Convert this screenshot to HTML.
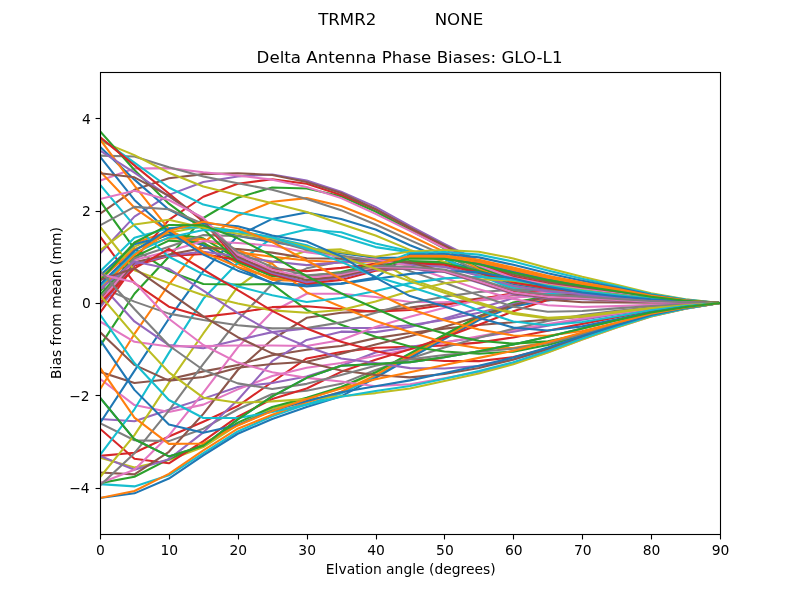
<!DOCTYPE html>
<html lang="en"><head><meta charset="utf-8"><title>Delta Antenna Phase Biases: GLO-L1</title>
<style>html,body{margin:0;padding:0;background:#fff;}body{width:800px;height:600px;overflow:hidden;}svg{display:block;}text{font-family:"DejaVu Sans","Liberation Sans",sans-serif;fill:#000;}</style></head><body>
<svg width="800" height="600" viewBox="0 0 800 600">
<rect width="800" height="600" fill="#fff"/>
<defs><clipPath id="c"><rect x="100" y="72" width="620" height="462"/></clipPath></defs>
<g clip-path="url(#c)" fill="none" stroke-width="2.083" stroke-linejoin="round" stroke-linecap="square">
<polyline stroke="#1f77b4" points="100.00,397.71 134.44,439.29 168.89,456.38 203.33,445.76 237.78,419.42 272.22,396.32 306.67,377.84 341.11,365.83 375.56,363.98 410.00,362.14 444.44,357.17 478.89,351.28 513.33,344.46 547.78,336.84 582.22,328.58 616.67,320.29 651.11,312.53 685.56,307.06 720.00,303.00"/>
<polyline stroke="#ff7f0e" points="100.00,279.90 134.44,242.94 168.89,231.39 203.33,242.94 237.78,263.73 272.22,279.90 306.67,281.29 341.11,274.36 375.56,266.04 410.00,256.69 444.44,256.68 478.89,261.19 513.33,269.22 547.78,277.08 582.22,283.63 616.67,289.57 651.11,295.85 685.56,300.34 720.00,303.00"/>
<polyline stroke="#2ca02c" points="100.00,291.45 134.44,249.87 168.89,233.70 203.33,238.32 237.78,259.11 272.22,273.43 306.67,277.13 341.11,272.97 375.56,263.73 410.00,260.96 444.44,262.08 478.89,268.81 513.33,278.02 547.78,284.58 582.22,289.20 616.67,293.53 651.11,298.03 685.56,301.15 720.00,303.00"/>
<polyline stroke="#d62728" points="100.00,455.92 134.44,452.69 168.89,436.52 203.33,421.73 237.78,406.03 272.22,382.00 306.67,358.44 341.11,351.97 375.56,347.81 410.00,346.89 444.44,345.39 478.89,342.62 513.33,337.42 547.78,330.72 582.22,323.86 616.67,317.15 651.11,310.80 685.56,306.32 720.00,303.00"/>
<polyline stroke="#9467bd" points="100.00,418.96 134.44,421.27 168.89,409.72 203.33,398.63 237.78,387.08 272.22,382.93 306.67,376.46 341.11,365.83 375.56,352.43 410.00,346.89 444.44,342.27 478.89,337.30 513.33,331.64 547.78,325.64 582.22,319.81 616.67,314.32 651.11,309.24 685.56,305.66 720.00,303.00"/>
<polyline stroke="#8c564b" points="100.00,371.84 134.44,382.93 168.89,379.23 203.33,371.38 237.78,364.91 272.22,355.21 306.67,349.66 341.11,345.97 375.56,338.11 410.00,333.03 444.44,328.64 478.89,325.06 513.33,322.29 547.78,319.75 582.22,316.76 616.67,312.75 651.11,308.37 685.56,305.29 720.00,303.00"/>
<polyline stroke="#e377c2" points="100.00,378.77 134.44,405.10 168.89,412.03 203.33,404.64 237.78,389.39 272.22,376.00 306.67,367.68 341.11,363.06 375.56,355.67 410.00,349.20 444.44,342.50 478.89,336.15 513.33,329.91 547.78,323.91 582.22,318.41 616.67,313.38 651.11,308.72 685.56,305.44 720.00,303.00"/>
<polyline stroke="#7f7f7f" points="100.00,423.12 134.44,440.21 168.89,441.14 203.33,428.66 237.78,409.26 272.22,394.01 306.67,390.78 341.11,383.85 375.56,369.99 410.00,358.44 444.44,347.47 478.89,337.65 513.33,328.76 547.78,321.02 582.22,315.13 616.67,310.86 651.11,307.33 685.56,304.84 720.00,303.00"/>
<polyline stroke="#bcbd22" points="100.00,457.77 134.44,467.47 168.89,460.08 203.33,447.14 237.78,424.97 272.22,408.80 306.67,398.63 341.11,388.01 375.56,372.85 410.00,353.82 444.44,335.20 478.89,316.56 513.33,302.83 547.78,296.60 582.22,294.88 616.67,295.79 651.11,298.93 685.56,301.61 720.00,303.00"/>
<polyline stroke="#17becf" points="100.00,484.10 134.44,486.41 168.89,475.33 203.33,453.15 237.78,431.44 272.22,416.19 306.67,404.18 341.11,393.55 375.56,376.18 410.00,356.59 444.44,337.83 478.89,318.92 513.33,305.25 547.78,299.10 582.22,296.75 616.67,296.90 651.11,299.49 685.56,301.61 720.00,303.00"/>
<polyline stroke="#1f77b4" points="100.00,497.96 134.44,493.34 168.89,478.56 203.33,455.46 237.78,433.75 272.22,418.96 306.67,406.95 341.11,396.32 375.56,377.84 410.00,357.98 444.44,339.15 478.89,320.09 513.33,306.47 547.78,300.34 582.22,297.69 616.67,297.46 651.11,299.77 685.56,301.61 720.00,303.00"/>
<polyline stroke="#ff7f0e" points="100.00,497.96 134.44,491.03 168.89,473.94 203.33,450.38 237.78,428.66 272.22,414.80 306.67,402.33 341.11,391.70 375.56,375.07 410.00,355.67 444.44,336.96 478.89,318.13 513.33,304.44 547.78,298.26 582.22,296.13 616.67,296.53 651.11,299.30 685.56,301.61 720.00,303.00"/>
<polyline stroke="#2ca02c" points="100.00,483.18 134.44,476.71 168.89,459.16 203.33,444.83 237.78,422.66 272.22,406.95 306.67,397.71 341.11,387.08 375.56,372.30 410.00,353.36 444.44,334.76 478.89,316.17 513.33,302.42 547.78,296.19 582.22,294.57 616.67,295.61 651.11,298.84 685.56,301.61 720.00,303.00"/>
<polyline stroke="#d62728" points="100.00,428.66 134.44,458.69 168.89,463.31 203.33,441.14 237.78,416.65 272.22,399.10 306.67,388.47 341.11,371.84 375.56,359.83 410.00,349.20 444.44,337.42 478.89,324.83 513.33,311.20 547.78,300.11 582.22,296.27 616.67,297.80 651.11,300.13 685.56,301.83 720.00,303.00"/>
<polyline stroke="#9467bd" points="100.00,455.92 134.44,469.78 168.89,459.16 203.33,432.36 237.78,400.02 272.22,361.21 306.67,339.96 341.11,331.64 375.56,332.11 410.00,327.02 444.44,318.48 478.89,308.43 513.33,298.15 547.78,291.68 582.22,291.54 616.67,295.05 651.11,298.62 685.56,301.21 720.00,303.00"/>
<polyline stroke="#8c564b" points="100.00,472.55 134.44,474.40 168.89,451.76 203.33,413.88 237.78,369.99 272.22,339.50 306.67,317.78 341.11,312.70 375.56,310.85 410.00,307.62 444.44,303.00 478.89,298.61 513.33,295.15 547.78,293.53 582.22,294.31 616.67,296.88 651.11,299.63 685.56,301.63 720.00,303.00"/>
<polyline stroke="#e377c2" points="100.00,483.18 134.44,469.78 168.89,435.59 203.33,392.63 237.78,347.35 272.22,311.78 306.67,293.76 341.11,293.76 375.56,296.99 410.00,302.08 444.44,302.19 478.89,300.46 513.33,297.57 547.78,295.61 582.22,296.00 616.67,298.11 651.11,300.30 685.56,301.90 720.00,303.00"/>
<polyline stroke="#7f7f7f" points="100.00,485.49 134.44,453.15 168.89,410.65 203.33,363.98 237.78,320.09 272.22,284.06 306.67,268.35 341.11,261.42 375.56,259.11 410.00,264.45 444.44,266.50 478.89,275.05 513.33,285.23 547.78,290.71 582.22,293.75 616.67,296.77 651.11,299.82 685.56,301.82 720.00,303.00"/>
<polyline stroke="#bcbd22" points="100.00,477.17 134.44,435.13 168.89,382.93 203.33,333.49 237.78,286.83 272.22,262.34 306.67,250.79 341.11,249.41 375.56,259.11 410.00,278.98 444.44,290.76 478.89,302.42 513.33,312.82 547.78,317.67 582.22,315.94 616.67,311.80 651.11,307.85 685.56,305.07 720.00,303.00"/>
<polyline stroke="#17becf" points="100.00,455.00 134.44,409.26 168.89,352.90 203.33,298.84 237.78,262.81 272.22,237.86 306.67,229.54 341.11,232.31 375.56,243.40 410.00,251.26 444.44,258.89 478.89,274.38 513.33,287.63 547.78,292.76 582.22,295.27 616.67,297.85 651.11,300.42 685.56,302.04 720.00,303.00"/>
<polyline stroke="#1f77b4" points="100.00,423.12 134.44,370.91 168.89,318.71 203.33,271.12 237.78,236.01 272.22,218.92 306.67,212.45 341.11,218.92 375.56,229.54 410.00,245.25 444.44,258.76 478.89,273.08 513.33,284.43 547.78,290.03 582.22,293.24 616.67,296.41 651.11,299.62 685.56,301.74 720.00,303.00"/>
<polyline stroke="#ff7f0e" points="100.00,389.39 134.44,333.95 168.89,284.52 203.33,242.94 237.78,215.68 272.22,201.82 306.67,198.13 341.11,205.98 375.56,219.84 410.00,235.55 444.44,251.93 478.89,268.90 513.33,281.22 547.78,287.30 582.22,291.22 616.67,294.97 651.11,298.83 685.56,301.45 720.00,303.00"/>
<polyline stroke="#2ca02c" points="100.00,345.97 134.44,293.76 168.89,256.80 203.33,217.99 237.78,197.66 272.22,187.50 306.67,188.42 341.11,196.28 375.56,211.52 410.00,230.00 444.44,248.58 478.89,266.92 513.33,279.62 547.78,285.94 582.22,290.21 616.67,294.25 651.11,298.43 685.56,301.30 720.00,303.00"/>
<polyline stroke="#d62728" points="100.00,300.69 134.44,259.11 168.89,219.84 203.33,196.74 237.78,183.80 272.22,179.18 306.67,183.80 341.11,194.89 375.56,209.21 410.00,228.16 444.44,246.25 478.89,264.00 513.33,276.42 547.78,283.21 582.22,288.19 616.67,292.81 651.11,297.64 685.56,301.00 720.00,303.00"/>
<polyline stroke="#9467bd" points="100.00,253.57 134.44,216.61 168.89,194.89 203.33,181.96 237.78,176.41 272.22,174.56 306.67,180.57 341.11,191.66 375.56,206.90 410.00,225.85 444.44,243.81 478.89,261.09 513.33,273.22 547.78,280.49 582.22,286.16 616.67,291.37 651.11,296.84 685.56,300.71 720.00,303.00"/>
<polyline stroke="#8c564b" points="100.00,213.83 134.44,189.81 168.89,178.26 203.33,174.10 237.78,173.18 272.22,175.03 306.67,181.96 341.11,193.04 375.56,209.21 410.00,227.69 444.44,245.32 478.89,262.61 513.33,274.82 547.78,281.85 582.22,287.17 616.67,292.09 651.11,297.24 685.56,300.86 720.00,303.00"/>
<polyline stroke="#e377c2" points="100.00,180.57 134.44,168.56 168.89,168.10 203.33,172.25 237.78,175.49 272.22,179.65 306.67,187.04 341.11,198.13 375.56,213.83 410.00,230.93 444.44,247.99 478.89,265.52 513.33,278.02 547.78,284.58 582.22,289.20 616.67,293.53 651.11,298.03 685.56,301.15 720.00,303.00"/>
<polyline stroke="#7f7f7f" points="100.00,155.62 134.44,156.55 168.89,167.17 203.33,176.41 237.78,183.34 272.22,189.81 306.67,199.05 341.11,210.14 375.56,224.46 410.00,240.17 444.44,255.29 478.89,270.99 513.33,282.83 547.78,288.67 582.22,292.23 616.67,295.69 651.11,299.23 685.56,301.60 720.00,303.00"/>
<polyline stroke="#bcbd22" points="100.00,140.84 134.44,155.16 168.89,172.72 203.33,186.58 237.78,194.89 272.22,203.21 306.67,211.99 341.11,224.00 375.56,235.55 410.00,249.87 444.44,261.89 478.89,275.06 513.33,286.03 547.78,291.39 582.22,294.26 616.67,297.13 651.11,300.02 685.56,301.89 720.00,303.00"/>
<polyline stroke="#17becf" points="100.00,138.07 134.44,162.55 168.89,187.50 203.33,204.59 237.78,212.45 272.22,218.92 306.67,226.77 341.11,236.47 375.56,247.10 410.00,252.18 444.44,258.55 478.89,275.09 513.33,289.23 547.78,294.12 582.22,296.28 616.67,298.57 651.11,300.81 685.56,302.19 720.00,303.00"/>
<polyline stroke="#1f77b4" points="100.00,146.84 134.44,179.65 168.89,209.68 203.33,226.77 237.78,236.01 272.22,242.02 306.67,247.56 341.11,253.10 375.56,257.72 410.00,257.85 444.44,258.16 478.89,263.27 513.33,271.62 547.78,279.13 582.22,285.15 616.67,290.65 651.11,296.44 685.56,300.56 720.00,303.00"/>
<polyline stroke="#ff7f0e" points="100.00,171.33 134.44,207.83 168.89,231.85 203.33,245.25 237.78,252.18 272.22,256.80 306.67,260.50 341.11,262.34 375.56,261.42 410.00,257.08 444.44,257.18 478.89,261.88 513.33,270.02 547.78,277.76 582.22,284.14 616.67,289.93 651.11,296.05 685.56,300.41 720.00,303.00"/>
<polyline stroke="#2ca02c" points="100.00,200.90 134.44,248.95 168.89,271.12 203.33,284.06 237.78,284.52 272.22,284.06 306.67,309.93 341.11,324.71 375.56,336.73 410.00,346.43 444.44,351.51 478.89,353.70 513.33,351.63 547.78,345.04 582.22,335.41 616.67,325.01 651.11,315.13 685.56,308.17 720.00,303.00"/>
<polyline stroke="#d62728" points="100.00,236.47 134.44,283.13 168.89,306.70 203.33,316.86 237.78,312.70 272.22,307.16 306.67,306.23 341.11,309.01 375.56,311.78 410.00,309.93 444.44,304.96 478.89,299.19 513.33,293.30 547.78,290.18 582.22,291.62 616.67,295.35 651.11,298.79 685.56,301.28 720.00,303.00"/>
<polyline stroke="#9467bd" points="100.00,283.60 134.44,321.48 168.89,345.04 203.33,348.28 237.78,339.96 272.22,332.11 306.67,328.41 341.11,327.95 375.56,327.95 410.00,325.18 444.44,319.86 478.89,312.70 513.33,304.04 547.78,297.46 582.22,296.12 616.67,298.11 651.11,300.30 685.56,301.90 720.00,303.00"/>
<polyline stroke="#8c564b" points="100.00,332.11 134.44,364.91 168.89,380.62 203.33,376.92 237.78,367.68 272.22,363.98 306.67,361.67 341.11,353.82 375.56,344.58 410.00,336.26 444.44,326.79 478.89,316.51 513.33,305.31 547.78,296.42 582.22,293.93 616.67,296.27 651.11,299.29 685.56,301.49 720.00,303.00"/>
<polyline stroke="#e377c2" points="100.00,321.48 134.44,341.81 168.89,346.43 203.33,345.97 237.78,345.50 272.22,345.50 306.67,345.97 341.11,339.96 375.56,327.02 410.00,316.86 444.44,307.85 478.89,300.00 513.33,294.34 547.78,291.68 582.22,292.50 616.67,295.66 651.11,298.95 685.56,301.35 720.00,303.00"/>
<polyline stroke="#7f7f7f" points="100.00,286.83 134.44,301.61 168.89,313.63 203.33,320.09 237.78,325.18 272.22,328.41 306.67,327.95 341.11,322.40 375.56,312.70 410.00,303.00 444.44,296.65 478.89,292.03 513.33,289.72 547.78,289.72 582.22,291.85 616.67,295.35 651.11,298.79 685.56,301.28 720.00,303.00"/>
<polyline stroke="#bcbd22" points="100.00,277.59 134.44,246.64 168.89,232.78 203.33,226.31 237.78,230.93 272.22,238.32 306.67,248.02 341.11,252.18 375.56,256.80 410.00,251.45 444.44,250.06 478.89,251.83 513.33,258.41 547.78,267.88 582.22,276.80 616.67,284.70 651.11,293.17 685.56,299.34 720.00,303.00"/>
<polyline stroke="#17becf" points="100.00,271.58 134.44,237.86 168.89,228.16 203.33,227.23 237.78,230.93 272.22,237.40 306.67,245.25 341.11,259.11 375.56,266.96 410.00,253.00 444.44,252.02 478.89,254.61 513.33,261.61 547.78,270.61 582.22,278.83 616.67,286.14 651.11,293.96 685.56,299.64 720.00,303.00"/>
<polyline stroke="#1f77b4" points="100.00,275.28 134.44,244.33 168.89,235.09 203.33,245.25 237.78,267.43 272.22,283.13 306.67,284.52 341.11,283.60 375.56,277.59 410.00,254.55 444.44,253.98 478.89,257.38 513.33,264.82 547.78,273.33 582.22,280.85 616.67,287.58 651.11,294.76 685.56,299.93 720.00,303.00"/>
<polyline stroke="#ff7f0e" points="100.00,279.90 134.44,248.95 168.89,238.32 203.33,239.24 237.78,249.87 272.22,263.73 306.67,292.37 341.11,306.70 375.56,321.02 410.00,332.11 444.44,342.39 478.89,348.28 513.33,348.04 547.78,342.39 582.22,333.29 616.67,323.44 651.11,314.26 685.56,307.80 720.00,303.00"/>
<polyline stroke="#2ca02c" points="100.00,295.15 134.44,256.80 168.89,240.63 203.33,242.94 237.78,261.88 272.22,276.20 306.67,276.20 341.11,272.05 375.56,263.73 410.00,262.12 444.44,263.56 478.89,270.89 513.33,280.42 547.78,286.62 582.22,290.72 616.67,294.61 651.11,298.63 685.56,301.37 720.00,303.00"/>
<polyline stroke="#d62728" points="100.00,312.70 134.44,265.58 168.89,255.88 203.33,254.03 237.78,260.03 272.22,268.81 306.67,271.12 341.11,267.89 375.56,263.73 410.00,263.09 444.44,264.78 478.89,272.62 513.33,282.43 547.78,288.33 582.22,291.98 616.67,295.51 651.11,299.13 685.56,301.56 720.00,303.00"/>
<polyline stroke="#9467bd" points="100.00,307.62 134.44,264.19 168.89,255.41 203.33,251.72 237.78,256.34 272.22,261.42 306.67,265.12 341.11,262.34 375.56,260.50 410.00,264.84 444.44,266.99 478.89,275.74 513.33,286.03 547.78,291.39 582.22,294.26 616.67,297.13 651.11,300.02 685.56,301.89 720.00,303.00"/>
<polyline stroke="#8c564b" points="100.00,304.85 134.44,262.34 168.89,254.49 203.33,248.02 237.78,248.95 272.22,252.64 306.67,258.19 341.11,258.65 375.56,260.03 410.00,262.34 444.44,271.47 478.89,280.94 513.33,291.45 547.78,299.65 582.22,302.27 616.67,302.39 651.11,302.66 685.56,302.86 720.00,303.00"/>
<polyline stroke="#e377c2" points="100.00,302.08 134.44,260.03 168.89,251.26 203.33,241.09 237.78,242.94 272.22,245.71 306.67,252.18 341.11,256.80 375.56,259.57 410.00,266.04 444.44,277.82 478.89,289.37 513.33,299.07 547.78,305.19 582.22,307.02 616.67,306.14 651.11,304.73 685.56,303.74 720.00,303.00"/>
<polyline stroke="#7f7f7f" points="100.00,297.92 134.44,258.19 168.89,246.64 203.33,235.09 237.78,236.01 272.22,240.17 306.67,249.87 341.11,255.41 375.56,260.96 410.00,271.12 444.44,282.67 478.89,295.38 513.33,306.70 547.78,311.78 582.22,310.92 616.67,308.35 651.11,305.95 685.56,304.25 720.00,303.00"/>
<polyline stroke="#bcbd22" points="100.00,226.77 134.44,270.20 168.89,283.13 203.33,295.15 237.78,303.46 272.22,310.39 306.67,312.70 341.11,309.93 375.56,301.61 410.00,290.99 444.44,283.25 478.89,279.32 513.33,280.71 547.78,285.33 582.22,290.31 616.67,294.74 651.11,298.45 685.56,301.15 720.00,303.00"/>
<polyline stroke="#17becf" points="100.00,184.73 134.44,225.85 168.89,256.80 203.33,274.36 237.78,286.37 272.22,295.15 306.67,302.08 341.11,297.92 375.56,290.99 410.00,283.13 444.44,278.40 478.89,276.78 513.33,279.90 547.78,285.68 582.22,290.85 616.67,295.05 651.11,298.62 685.56,301.21 720.00,303.00"/>
<polyline stroke="#1f77b4" points="100.00,156.55 134.44,199.97 168.89,231.85 203.33,254.49 237.78,270.66 272.22,282.67 306.67,286.37 341.11,283.60 375.56,278.98 410.00,273.89 444.44,271.01 478.89,272.16 513.33,278.51 547.78,286.71 582.22,292.54 616.67,296.27 651.11,299.29 685.56,301.49 720.00,303.00"/>
<polyline stroke="#ff7f0e" points="100.00,139.45 134.44,185.65 168.89,229.08 203.33,252.18 237.78,266.96 272.22,278.05 306.67,282.21 341.11,276.67 375.56,264.19 410.00,255.91 444.44,255.70 478.89,259.80 513.33,267.62 547.78,275.72 582.22,282.62 616.67,288.84 651.11,295.45 685.56,300.19 720.00,303.00"/>
<polyline stroke="#2ca02c" points="100.00,131.14 134.44,169.94 168.89,203.67 203.33,229.08 237.78,261.42 272.22,275.28 306.67,282.21 341.11,277.59 375.56,268.35 410.00,258.44 444.44,258.89 478.89,264.31 513.33,272.82 547.78,280.15 582.22,285.91 616.67,291.19 651.11,296.74 685.56,300.67 720.00,303.00"/>
<polyline stroke="#d62728" points="100.00,137.14 134.44,165.32 168.89,193.51 203.33,221.69 237.78,260.03 272.22,274.36 306.67,283.60 341.11,279.90 375.56,270.66 410.00,267.75 444.44,270.67 478.89,280.94 513.33,292.03 547.78,296.50 582.22,298.05 616.67,299.84 651.11,301.51 685.56,302.45 720.00,303.00"/>
<polyline stroke="#9467bd" points="100.00,150.54 134.44,172.72 168.89,196.28 203.33,219.38 237.78,258.65 272.22,272.97 306.67,282.21 341.11,277.59 375.56,269.74 410.00,268.72 444.44,271.90 478.89,282.67 513.33,294.03 547.78,298.21 582.22,299.32 616.67,300.74 651.11,302.01 685.56,302.63 720.00,303.00"/>
<polyline stroke="#8c564b" points="100.00,173.18 134.44,177.34 168.89,195.82 203.33,219.84 237.78,256.80 272.22,271.58 306.67,279.90 341.11,276.20 375.56,268.35 410.00,268.33 444.44,271.41 478.89,281.98 513.33,293.23 547.78,297.53 582.22,298.81 616.67,300.38 651.11,301.81 685.56,302.56 720.00,303.00"/>
<polyline stroke="#e377c2" points="100.00,199.05 134.44,190.73 168.89,199.97 203.33,217.99 237.78,254.49 272.22,269.74 306.67,277.59 341.11,274.36 375.56,266.96 410.00,267.94 444.44,270.92 478.89,281.29 513.33,292.43 547.78,296.84 582.22,298.30 616.67,300.02 651.11,301.61 685.56,302.48 720.00,303.00"/>
<polyline stroke="#7f7f7f" points="100.00,225.38 134.44,206.90 168.89,209.21 203.33,224.00 237.78,252.18 272.22,266.96 306.67,275.28 341.11,272.97 375.56,266.04 410.00,266.78 444.44,269.45 478.89,279.21 513.33,290.03 547.78,294.80 582.22,296.79 616.67,298.93 651.11,301.01 685.56,302.26 720.00,303.00"/>
<polyline stroke="#bcbd22" points="100.00,250.33 134.44,224.46 168.89,219.84 203.33,227.69 237.78,233.70 272.22,238.32 306.67,246.64 341.11,256.80 375.56,268.81 410.00,281.29 444.44,292.72 478.89,304.04 513.33,313.97 547.78,318.59 582.22,316.79 616.67,312.43 651.11,308.20 685.56,305.21 720.00,303.00"/>
<polyline stroke="#17becf" points="100.00,286.83 134.44,253.10 168.89,237.40 203.33,230.00 237.78,231.39 272.22,237.40 306.67,248.48 341.11,261.88 375.56,276.67 410.00,286.83 444.44,297.80 478.89,310.28 513.33,321.48 547.78,325.29 582.22,322.01 616.67,316.21 651.11,310.28 685.56,306.10 720.00,303.00"/>
<polyline stroke="#1f77b4" points="100.00,284.52 134.44,250.79 168.89,229.08 203.33,223.07 237.78,226.31 272.22,235.55 306.67,241.55 341.11,256.34 375.56,277.59 410.00,296.07 444.44,306.58 478.89,317.78 513.33,327.60 547.78,330.49 582.22,326.38 616.67,319.35 651.11,312.01 685.56,306.84 720.00,303.00"/>
<polyline stroke="#ff7f0e" points="100.00,289.14 134.44,254.95 168.89,230.93 203.33,221.69 237.78,228.16 272.22,242.02 306.67,260.50 341.11,278.98 375.56,292.84 410.00,309.01 444.44,320.21 478.89,329.56 513.33,335.46 547.78,335.80 582.22,330.94 616.67,322.81 651.11,313.91 685.56,307.65 720.00,303.00"/>
<polyline stroke="#2ca02c" points="100.00,280.82 134.44,242.48 168.89,224.92 203.33,225.38 237.78,238.32 272.22,255.88 306.67,276.20 341.11,293.30 375.56,308.54 410.00,323.79 444.44,333.61 478.89,340.77 513.33,343.66 547.78,341.35 582.22,334.30 616.67,324.69 651.11,314.95 685.56,308.09 720.00,303.00"/>
<polyline stroke="#d62728" points="100.00,303.00 134.44,268.35 168.89,248.95 203.33,269.74 237.78,290.06 272.22,310.85 306.67,328.41 341.11,341.81 375.56,351.05 410.00,358.44 444.44,360.98 478.89,361.10 513.33,357.05 547.78,348.51 582.22,337.46 616.67,326.27 651.11,315.82 685.56,308.46 720.00,303.00"/>
<polyline stroke="#9467bd" points="100.00,289.14 134.44,261.42 168.89,268.81 203.33,290.53 237.78,313.16 272.22,332.11 306.67,346.43 341.11,358.44 375.56,363.06 410.00,368.14 444.44,368.49 478.89,365.95 513.33,359.60 547.78,349.66 582.22,338.00 616.67,326.58 651.11,315.99 685.56,308.53 720.00,303.00"/>
<polyline stroke="#8c564b" points="100.00,279.90 134.44,268.35 168.89,292.37 203.33,316.40 237.78,337.19 272.22,353.36 306.67,362.14 341.11,370.45 375.56,375.07 410.00,377.38 444.44,374.03 478.89,367.91 513.33,359.60 547.78,349.08 582.22,337.46 616.67,326.27 651.11,315.82 685.56,308.46 720.00,303.00"/>
<polyline stroke="#e377c2" points="100.00,274.36 134.44,282.21 168.89,318.71 203.33,345.04 237.78,362.60 272.22,372.30 306.67,377.84 341.11,381.54 375.56,386.16 410.00,384.31 444.44,378.31 478.89,371.84 513.33,363.52 547.78,352.32 582.22,339.62 616.67,327.52 651.11,316.51 685.56,308.76 720.00,303.00"/>
<polyline stroke="#7f7f7f" points="100.00,270.66 134.44,309.01 168.89,345.50 203.33,369.99 237.78,383.39 272.22,388.93 306.67,383.85 341.11,375.07 375.56,365.83 410.00,359.36 444.44,355.09 478.89,351.74 513.33,348.62 547.78,343.19 582.22,334.45 616.67,324.38 651.11,314.78 685.56,308.02 720.00,303.00"/>
<polyline stroke="#bcbd22" points="100.00,295.15 134.44,335.34 168.89,372.30 203.33,397.71 237.78,402.79 272.22,401.41 306.67,399.10 341.11,396.32 375.56,393.09 410.00,388.47 444.44,381.08 478.89,373.45 513.33,364.33 547.78,352.55 582.22,339.61 616.67,327.49 651.11,316.40 685.56,308.77 720.00,303.00"/>
<polyline stroke="#17becf" points="100.00,314.55 134.44,363.06 168.89,400.02 203.33,418.04 237.78,418.04 272.22,412.03 306.67,404.64 341.11,396.79 375.56,391.01 410.00,386.04 444.44,378.65 478.89,371.12 513.33,362.30 547.78,351.01 582.22,338.54 616.67,326.79 651.11,315.98 685.56,308.57 720.00,303.00"/>
<polyline stroke="#1f77b4" points="100.00,339.96 134.44,389.86 168.89,424.51 203.33,432.82 237.78,424.97 272.22,410.65 306.67,400.94 341.11,392.17 375.56,386.16 410.00,380.38 444.44,372.99 478.89,365.66 513.33,357.57 547.78,347.41 582.22,336.03 616.67,325.18 651.11,315.01 685.56,308.08 720.00,303.00"/>
<polyline stroke="#ff7f0e" points="100.00,367.68 134.44,417.58 168.89,443.91 203.33,443.45 237.78,425.43 272.22,411.11 306.67,399.10 341.11,388.47 375.56,379.23 410.00,372.30 444.44,364.91 478.89,357.86 513.33,350.82 547.78,342.27 582.22,332.45 616.67,322.87 651.11,313.63 685.56,307.39 720.00,303.00"/>
<polyline stroke="#2ca02c" points="100.00,397.71 134.44,439.29 168.89,456.38 203.33,445.76 237.78,419.42 272.22,396.32 306.67,377.84 341.11,365.83 375.56,363.98 410.00,362.14 444.44,357.17 478.89,351.28 513.33,344.46 547.78,336.84 582.22,328.58 616.67,320.29 651.11,312.53 685.56,307.06 720.00,303.00"/>
</g>
<g stroke="#000" stroke-width="1.111" fill="none">
<line x1="100.50" y1="534.50" x2="100.50" y2="539.45"/>
<line x1="169.50" y1="534.50" x2="169.50" y2="539.45"/>
<line x1="238.50" y1="534.50" x2="238.50" y2="539.45"/>
<line x1="307.50" y1="534.50" x2="307.50" y2="539.45"/>
<line x1="376.50" y1="534.50" x2="376.50" y2="539.45"/>
<line x1="444.50" y1="534.50" x2="444.50" y2="539.45"/>
<line x1="513.50" y1="534.50" x2="513.50" y2="539.45"/>
<line x1="582.50" y1="534.50" x2="582.50" y2="539.45"/>
<line x1="651.50" y1="534.50" x2="651.50" y2="539.45"/>
<line x1="720.50" y1="534.50" x2="720.50" y2="539.45"/>
<line x1="95.55" y1="488.50" x2="100.50" y2="488.50"/>
<line x1="95.55" y1="395.50" x2="100.50" y2="395.50"/>
<line x1="95.55" y1="303.50" x2="100.50" y2="303.50"/>
<line x1="95.55" y1="211.50" x2="100.50" y2="211.50"/>
<line x1="95.55" y1="118.50" x2="100.50" y2="118.50"/>
<rect x="100.5" y="72.5" width="620" height="462" stroke-linejoin="miter"/>
</g>
<g font-size="13.889px">
<text x="100.50" y="555.22" text-anchor="middle">0</text>
<text x="169.39" y="555.22" text-anchor="middle">10</text>
<text x="238.28" y="555.22" text-anchor="middle">20</text>
<text x="307.17" y="555.22" text-anchor="middle">30</text>
<text x="376.06" y="555.22" text-anchor="middle">40</text>
<text x="444.94" y="555.22" text-anchor="middle">50</text>
<text x="513.83" y="555.22" text-anchor="middle">60</text>
<text x="582.72" y="555.22" text-anchor="middle">70</text>
<text x="651.61" y="555.22" text-anchor="middle">80</text>
<text x="720.50" y="555.22" text-anchor="middle">90</text>
<text x="89.68" y="493.00" text-anchor="end">−4</text>
<text x="89.68" y="400.70" text-anchor="end">−2</text>
<text x="90.88" y="308.30" text-anchor="end">0</text>
<text x="90.88" y="216.00" text-anchor="end">2</text>
<text x="90.88" y="124.40" text-anchor="end">4</text>
<text x="410.76" y="574.00" text-anchor="middle">Elvation angle (degrees)</text>
<text transform="translate(61.04,303) rotate(-90)" text-anchor="middle">Bias from mean (mm)</text>
</g>
<g font-size="16.667px">
<text x="409.54" y="63.45" text-anchor="middle">Delta Antenna Phase Biases: GLO-L1</text>
<text x="400.68" y="25.30" text-anchor="middle" xml:space="preserve" style="white-space:pre">TRMR2           NONE</text>
</g>
</svg></body></html>
